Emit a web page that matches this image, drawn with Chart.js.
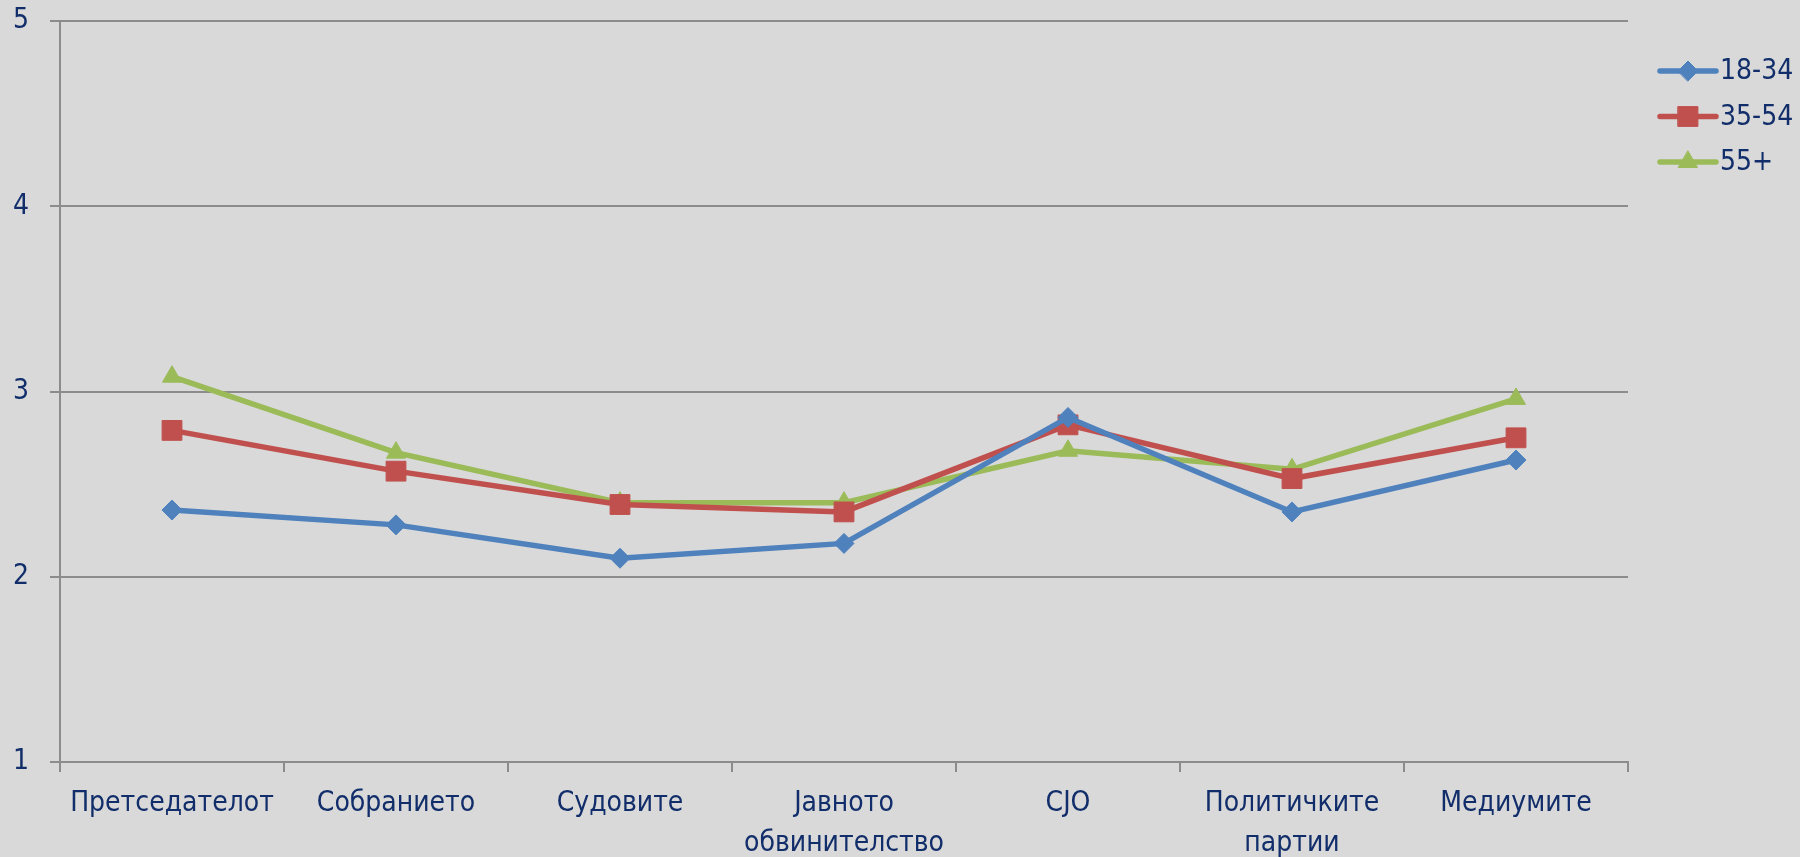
<!DOCTYPE html>
<html>
<head>
<meta charset="utf-8">
<script src="https://cdn.jsdelivr.net/npm/chart.js@4.4.1/dist/chart.umd.min.js"></script>
<style>
  html, body { margin: 0; padding: 0; background: #d9d9d9; }
  #wrap { width: 1800px; height: 857px; }
</style>
</head>
<body>
<div id="wrap"><canvas id="trustChart" width="1800" height="857"></canvas></div>
<script>
// institutions on the x axis
const categories = [
    'Претседателот',
    'Собранието',
    'Судовите',
    ['Јавното', 'обвинителство'],
    'CJO',
    ['Политичките', 'партии'],
    'Медиумите'
];

// average scores by age group
const age18to34 = [2.36, 2.28, 2.10, 2.18, 2.86, 2.35, 2.63];
const age35to54 = [2.79, 2.57, 2.39, 2.35, 2.82, 2.53, 2.75];
const age55plus = [3.08, 2.67, 2.40, 2.40, 2.68, 2.58, 2.96];

const yTicks = [1, 2, 3, 4, 5];

const FONT = "'Liberation Sans Narrow', 'DejaVu Sans Condensed', 'Open Sans', sans-serif";
const TEXT = '#112d6a';
const GRID = '#8c8c8c';

// legend drawn as a line with the marker in the middle, like Excel
const lineLegend = {
    id: 'lineLegend',
    afterDraw(chart) {
        const ctx = chart.ctx;
        chart.data.datasets.forEach((ds, i) => {
            const y = 71 + i * 45.5;
            ctx.save();
            ctx.strokeStyle = ds.borderColor;
            ctx.lineWidth = ds.borderWidth;
            ctx.lineCap = 'round';
            ctx.beginPath();
            ctx.moveTo(1660, y);
            ctx.lineTo(1716, y);
            ctx.stroke();
            ctx.fillStyle = ds.pointBackgroundColor;
            ctx.strokeStyle = ds.pointBorderColor;
            ctx.lineWidth = 1;
            Chart.helpers.drawPoint(ctx, {
                pointStyle: ds.pointStyle,
                radius: ds.pointRadius,
                borderWidth: 1
            }, 1688, y);
            ctx.fillStyle = TEXT;
            ctx.font = '28px ' + FONT;
            ctx.textBaseline = 'middle';
            ctx.textAlign = 'left';
            ctx.fillText(ds.label, 1720, y + 1);
            ctx.restore();
        });
    }
};

function makeSet(label, data, color, style, radius) {
    return {
        label: label,
        data: data,
        borderColor: color,
        backgroundColor: color,
        pointBackgroundColor: color,
        pointBorderColor: color,
        pointBorderWidth: 1,
        borderWidth: 5.5,
        pointStyle: style,
        pointRadius: radius,
        pointHoverRadius: radius,
        tension: 0,
        fill: false
    };
}

const ctx = document.getElementById('trustChart').getContext('2d');
const trustChart = new Chart(ctx, {
    type: 'line',
    data: {
        labels: categories,
        datasets: [
            makeSet('18-34', age18to34, '#4f81bd', 'rectRot', 10),
            makeSet('35-54', age35to54, '#c0504d', 'rect', 14),
            makeSet('55+', age55plus, '#9bbb59', 'triangle', 11)
        ]
    },
    options: {
        responsive: false,
        animation: false,
        layout: { autoPadding: false, padding: { top: 21, right: 172, left: 0, bottom: 0 } },
        plugins: {
            legend: { display: false },
            tooltip: { enabled: false }
        },
        scales: {
            x: {
                offset: true,
                afterFit: s => { s.height = 95; },
                border: { display: true, color: GRID, width: 2 },
                grid: {
                    offset: true,
                    drawOnChartArea: false,
                    drawTicks: true,
                    tickLength: 10,
                    color: GRID,
                    lineWidth: 2
                },
                ticks: {
                    color: TEXT,
                    font: { family: FONT, size: 28, lineHeight: 1.45 },
                    padding: 11,
                    maxRotation: 0,
                    autoSkip: false
                }
            },
            y: {
                min: 1,
                max: 5,
                // fixed axis width, and no extra room for the half label at the top
                afterFit: s => { s.width = 60; s.paddingTop = 0; s.paddingBottom = 0; },
                afterBuildTicks: s => { s.ticks = yTicks.map(v => ({ value: v })); },
                border: { display: true, color: GRID, width: 2 },
                grid: {
                    color: GRID,
                    lineWidth: 2,
                    drawTicks: true,
                    tickLength: 10
                },
                ticks: {
                    color: TEXT,
                    font: { family: FONT, size: 28 },
                    padding: 21
                }
            }
        }
    },
    plugins: [lineLegend]
});
</script>
</body>
</html>
